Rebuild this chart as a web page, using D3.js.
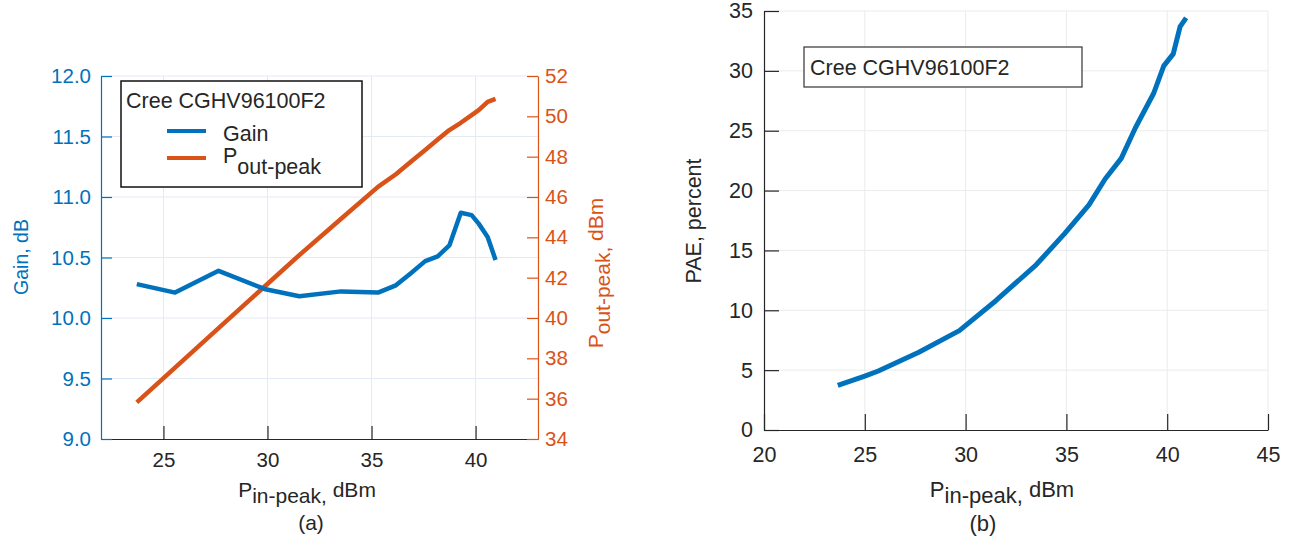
<!DOCTYPE html>
<html>
<head>
<meta charset="utf-8">
<script src="https://cdn.jsdelivr.net/npm/d3@7"></script>
<style>
  body { margin: 0; background: #fff; }
  svg { display: block; font-family: "Liberation Sans", Arial, sans-serif; }
</style>
</head>
<body>
<svg id="chart" width="1295" height="539"></svg>
<script>
// data
const pinA = [23.72, 25.56, 27.65, 29.85, 31.53, 33.54, 35.31, 36.17, 36.89, 37.58, 38.18, 38.74, 39.29, 39.81, 40.15, 40.58, 40.96];
const gainDb = [10.28, 10.21, 10.39, 10.24, 10.18, 10.22, 10.21, 10.27, 10.37, 10.47, 10.51, 10.60, 10.87, 10.85, 10.78, 10.67, 10.48];
const poutPeak = [35.82, 37.54, 39.5, 41.55, 43.12, 44.92, 46.5, 47.13, 47.75, 48.33, 48.85, 49.32, 49.68, 50.06, 50.31, 50.72, 50.86];
const pinB = [23.66, 25.0, 25.67, 27.68, 29.69, 31.5, 33.5, 34.91, 36.12, 36.92, 37.72, 38.43, 39.33, 39.83, 40.3, 40.64, 40.94];
const paePct = [3.72, 4.5, 4.93, 6.5, 8.3, 10.8, 13.8, 16.4, 18.8, 20.97, 22.69, 25.27, 28.13, 30.42, 31.42, 33.7, 34.43];
const xTicksA = [25, 30, 35, 40];
const gainTicks = [9.0, 9.5, 10.0, 10.5, 11.0, 11.5, 12.0];
const poutTicks = [34, 36, 38, 40, 42, 44, 46, 48, 50, 52];
const xTicksB = [20, 25, 30, 35, 40, 45];
const paeTicks = [0, 5, 10, 15, 20, 25, 30, 35];
const deviceName = "Cree CGHV96100F2";

const blue = "#0072BD";
const orange = "#D95319";
const dark = "#262626";
const svg = d3.select("#chart");

const styleAxis = (g, color, fontSize) => {
    g.select(".domain").attr("stroke", color).attr("stroke-width", 1.2);
    g.selectAll(".tick line").attr("stroke", color).attr("stroke-width", 1.2);
    g.selectAll(".tick text").attr("fill", color).attr("font-size", fontSize)
        .attr("font-family", "Liberation Sans, Arial, sans-serif");
}

////////////////// panel (a) ////////////////////
const aL = 101, aR = 538, aT = 76, aB = 439;
const xA = d3.scaleLinear().domain([22, 43]).range([aL, aR]);
const yGain = d3.scaleLinear().domain([9, 12]).range([aB, aT]);
const yPout = d3.scaleLinear().domain([34, 52]).range([aB, aT]);

const gridA = svg.append("g");
gridA.selectAll(".vx").data(xTicksA).join("line")
    .attr("x1", d => xA(d)).attr("x2", d => xA(d)).attr("y1", aT).attr("y2", aB)
    .attr("stroke", "#e3eaf3").attr("stroke-width", 1);
gridA.selectAll(".hy").data(gainTicks.slice(1)).join("line")
    .attr("x1", aL).attr("x2", aR).attr("y1", d => yGain(d)).attr("y2", d => yGain(d))
    .attr("stroke", "#e3eaf3").attr("stroke-width", 1);

const lineGain = d3.line().x((d, i) => xA(pinA[i])).y(d => yGain(d));
const linePout = d3.line().x((d, i) => xA(pinA[i])).y(d => yPout(d));
svg.append("path").datum(poutPeak).attr("d", linePout)
    .attr("fill", "none").attr("stroke", orange).attr("stroke-width", 4.5).attr("stroke-linejoin", "round");
svg.append("path").datum(gainDb).attr("d", lineGain)
    .attr("fill", "none").attr("stroke", blue).attr("stroke-width", 4.5).attr("stroke-linejoin", "round");

svg.append("g").attr("transform", `translate(0,${aB})`)
    .call(d3.axisBottom(xA).tickValues(xTicksA).tickSizeInner(-13).tickSizeOuter(0).tickPadding(13))
    .call(g => styleAxis(g, dark, 20.5));
svg.append("g").attr("transform", `translate(${aL},0)`)
    .call(d3.axisLeft(yGain).tickValues(gainTicks).tickFormat(d3.format(".1f")).tickSizeInner(-11).tickSizeOuter(0).tickPadding(10))
    .call(g => styleAxis(g, blue, 20.5));
svg.append("g").attr("transform", `translate(${aR},0)`)
    .call(d3.axisRight(yPout).tickValues(poutTicks).tickSizeInner(-11).tickSizeOuter(0).tickPadding(7))
    .call(g => styleAxis(g, orange, 20.5));

// axis labels (a)
svg.append("text").attr("transform", "translate(28,257) rotate(-90)")
    .attr("text-anchor", "middle").attr("font-size", 19.5).attr("fill", blue).text("Gain, dB");
const poutLabel = svg.append("text").attr("transform", "translate(603,273) rotate(-90)")
    .attr("text-anchor", "middle").attr("font-size", 21).attr("fill", orange);
poutLabel.append("tspan").text("P");
poutLabel.append("tspan").attr("dy", 7).text("out-peak,");
poutLabel.append("tspan").attr("dy", -7).text(" dBm");

const xLabA = svg.append("text").attr("x", 307).attr("y", 497)
    .attr("text-anchor", "middle").attr("font-size", 21).attr("fill", dark);
xLabA.append("tspan").text("P");
xLabA.append("tspan").attr("dy", 6).text("in-peak,");
xLabA.append("tspan").attr("dy", -6).text(" dBm");
svg.append("text").attr("x", 311).attr("y", 530).attr("text-anchor", "middle")
    .attr("font-size", 21).attr("fill", dark).text("(a)");

// legend (a)
const legA = svg.append("g");
legA.append("rect").attr("x", 121).attr("y", 81).attr("width", 241).attr("height", 106)
    .attr("fill", "#fff").attr("stroke", "#111").attr("stroke-width", 1.5);
legA.append("text").attr("x", 126).attr("y", 108).attr("font-size", 21.5).attr("fill", dark).text(deviceName);
legA.append("line").attr("x1", 167).attr("x2", 206).attr("y1", 131).attr("y2", 131)
    .attr("stroke", blue).attr("stroke-width", 4);
legA.append("line").attr("x1", 167).attr("x2", 206).attr("y1", 158).attr("y2", 158)
    .attr("stroke", orange).attr("stroke-width", 4);
legA.append("text").attr("x", 223).attr("y", 141).attr("font-size", 21.5).attr("fill", dark).text("Gain");
const legP = legA.append("text").attr("x", 223).attr("y", 163).attr("font-size", 21.5).attr("fill", dark);
legP.append("tspan").text("P");
legP.append("tspan").attr("dy", 11).text("out-peak");

////////////////// panel (b) ////////////////////
const bL = 764, bR = 1268, bT = 11, bB = 430;
const xB = d3.scaleLinear().domain([20, 45]).range([bL, bR]);
const yB = d3.scaleLinear().domain([0, 35]).range([bB, bT]);

const gridB = svg.append("g");
gridB.selectAll(".vx").data(xTicksB.slice(1)).join("line")
    .attr("x1", d => xB(d)).attr("x2", d => xB(d)).attr("y1", bT).attr("y2", bB)
    .attr("stroke", "#ebebeb").attr("stroke-width", 1);
gridB.selectAll(".hy").data(paeTicks.slice(1)).join("line")
    .attr("x1", bL).attr("x2", bR).attr("y1", d => yB(d)).attr("y2", d => yB(d))
    .attr("stroke", "#ebebeb").attr("stroke-width", 1);

const linePae = d3.line().x((d, i) => xB(pinB[i])).y(d => yB(d));
svg.append("path").datum(paePct).attr("d", linePae)
    .attr("fill", "none").attr("stroke", blue).attr("stroke-width", 5).attr("stroke-linejoin", "round");

svg.append("g").attr("transform", `translate(0,${bB})`)
    .call(d3.axisBottom(xB).tickValues(xTicksB).tickSizeInner(-16).tickSizeOuter(0).tickPadding(17))
    .call(g => styleAxis(g, dark, 21.5));
svg.append("g").attr("transform", `translate(${bL},0)`)
    .call(d3.axisLeft(yB).tickValues(paeTicks).tickSizeInner(-15).tickSizeOuter(0).tickPadding(11))
    .call(g => styleAxis(g, dark, 21.5));

svg.append("text").attr("transform", "translate(701,221) rotate(-90)")
    .attr("text-anchor", "middle").attr("font-size", 21.5).attr("fill", dark).text("PAE, percent");
const xLabB = svg.append("text").attr("x", 1002).attr("y", 497)
    .attr("text-anchor", "middle").attr("font-size", 22).attr("fill", dark);
xLabB.append("tspan").text("P");
xLabB.append("tspan").attr("dy", 6).text("in-peak,");
xLabB.append("tspan").attr("dy", -6).text(" dBm");
svg.append("text").attr("x", 983).attr("y", 531).attr("text-anchor", "middle")
    .attr("font-size", 22).attr("fill", dark).text("(b)");

// legend (b)
svg.append("rect").attr("x", 804).attr("y", 47).attr("width", 278).attr("height", 40)
    .attr("fill", "#fff").attr("stroke", "#333").attr("stroke-width", 1.2);
svg.append("text").attr("x", 810).attr("y", 75).attr("font-size", 21.5).attr("fill", dark).text(deviceName);
</script>
</body>
</html>
